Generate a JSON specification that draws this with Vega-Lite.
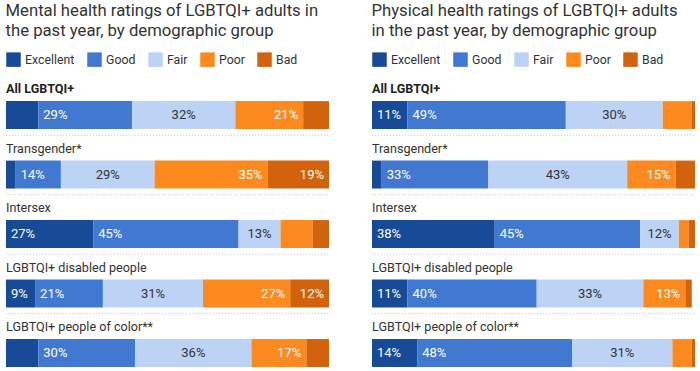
{
  "$schema": "https://vega.github.io/schema/vega-lite/v6.json",
  "padding": {"left": 5, "right": 5, "top": 3, "bottom": 0},
  "config": {
    "font": "Roboto",
    "view": {"stroke": null},
    "concat": {"spacing": 41},
    "title": {"anchor": "start", "fontSize": 16.7, "fontWeight": "normal", "lineHeight": 20, "color": "#333333", "offset": 12},
    "legend": {"orient": "top", "direction": "horizontal", "title": null, "symbolType": "square", "symbolSize": 210, "symbolStrokeWidth": 0, "symbolOpacity": 1, "labelFontSize": 12.3, "labelColor": "#333333", "columnPadding": 12, "labelOffset": 4, "offset": 2, "padding": 0}
  },
  "datasets": {
    "mental": [
      {"group": "All LGBTQI+", "cat": "Excellent", "pct": 10, "show": false},
      {"group": "All LGBTQI+", "cat": "Good", "pct": 29, "show": true},
      {"group": "All LGBTQI+", "cat": "Fair", "pct": 32, "show": true},
      {"group": "All LGBTQI+", "cat": "Poor", "pct": 21, "show": true},
      {"group": "All LGBTQI+", "cat": "Bad", "pct": 8, "show": false},
      {"group": "Transgender*", "cat": "Excellent", "pct": 3, "show": false},
      {"group": "Transgender*", "cat": "Good", "pct": 14, "show": true},
      {"group": "Transgender*", "cat": "Fair", "pct": 29, "show": true},
      {"group": "Transgender*", "cat": "Poor", "pct": 35, "show": true},
      {"group": "Transgender*", "cat": "Bad", "pct": 19, "show": true},
      {"group": "Intersex", "cat": "Excellent", "pct": 27, "show": true},
      {"group": "Intersex", "cat": "Good", "pct": 45, "show": true},
      {"group": "Intersex", "cat": "Fair", "pct": 13, "show": true},
      {"group": "Intersex", "cat": "Poor", "pct": 10, "show": false},
      {"group": "Intersex", "cat": "Bad", "pct": 5, "show": false},
      {"group": "LGBTQI+ disabled people", "cat": "Excellent", "pct": 9, "show": true},
      {"group": "LGBTQI+ disabled people", "cat": "Good", "pct": 21, "show": true},
      {"group": "LGBTQI+ disabled people", "cat": "Fair", "pct": 31, "show": true},
      {"group": "LGBTQI+ disabled people", "cat": "Poor", "pct": 27, "show": true},
      {"group": "LGBTQI+ disabled people", "cat": "Bad", "pct": 12, "show": true},
      {"group": "LGBTQI+ people of color**", "cat": "Excellent", "pct": 10, "show": false},
      {"group": "LGBTQI+ people of color**", "cat": "Good", "pct": 30, "show": true},
      {"group": "LGBTQI+ people of color**", "cat": "Fair", "pct": 36, "show": true},
      {"group": "LGBTQI+ people of color**", "cat": "Poor", "pct": 17, "show": true},
      {"group": "LGBTQI+ people of color**", "cat": "Bad", "pct": 7, "show": false}
    ],
    "physical": [
      {"group": "All LGBTQI+", "cat": "Excellent", "pct": 11, "show": true},
      {"group": "All LGBTQI+", "cat": "Good", "pct": 49, "show": true},
      {"group": "All LGBTQI+", "cat": "Fair", "pct": 30, "show": true},
      {"group": "All LGBTQI+", "cat": "Poor", "pct": 9, "show": false},
      {"group": "All LGBTQI+", "cat": "Bad", "pct": 1, "show": false},
      {"group": "Transgender*", "cat": "Excellent", "pct": 3, "show": false},
      {"group": "Transgender*", "cat": "Good", "pct": 33, "show": true},
      {"group": "Transgender*", "cat": "Fair", "pct": 43, "show": true},
      {"group": "Transgender*", "cat": "Poor", "pct": 15, "show": true},
      {"group": "Transgender*", "cat": "Bad", "pct": 6, "show": false},
      {"group": "Intersex", "cat": "Excellent", "pct": 38, "show": true},
      {"group": "Intersex", "cat": "Good", "pct": 45, "show": true},
      {"group": "Intersex", "cat": "Fair", "pct": 12, "show": true},
      {"group": "Intersex", "cat": "Poor", "pct": 3, "show": false},
      {"group": "Intersex", "cat": "Bad", "pct": 2, "show": false},
      {"group": "LGBTQI+ disabled people", "cat": "Excellent", "pct": 11, "show": true},
      {"group": "LGBTQI+ disabled people", "cat": "Good", "pct": 40, "show": true},
      {"group": "LGBTQI+ disabled people", "cat": "Fair", "pct": 33, "show": true},
      {"group": "LGBTQI+ disabled people", "cat": "Poor", "pct": 13, "show": true},
      {"group": "LGBTQI+ disabled people", "cat": "Bad", "pct": 2, "show": false},
      {"group": "LGBTQI+ people of color**", "cat": "Excellent", "pct": 14, "show": true},
      {"group": "LGBTQI+ people of color**", "cat": "Good", "pct": 48, "show": true},
      {"group": "LGBTQI+ people of color**", "cat": "Fair", "pct": 31, "show": true},
      {"group": "LGBTQI+ people of color**", "cat": "Poor", "pct": 6, "show": false},
      {"group": "LGBTQI+ people of color**", "cat": "Bad", "pct": 1, "show": false}
    ]
  },
  "hconcat": [
    {
      "title": {"text": ["Mental health ratings of LGBTQI+ adults in", "the past year, by demographic group"]},
      "width": 323,
      "height": 298,
      "data": {"name": "mental"},
      "transform": [
        {"calculate": "indexof(['Excellent','Good','Fair','Poor','Bad'], datum.cat)", "as": "ord"},
        {"stack": "pct", "groupby": ["group"], "sort": [{"field": "ord"}], "as": ["x0", "x1"]},
        {"calculate": "(datum.x0 + datum.x1) / 2", "as": "xm"},
        {"calculate": "datum.pct + '%'", "as": "lbl"}
      ],
      "layer": [
        {
          "transform": [{"filter": "datum.cat == 'Excellent' && datum.group != 'LGBTQI+ people of color**'"}],
          "mark": {"type": "rule", "strokeDash": [1, 2], "color": "#c8c8c8", "strokeWidth": 1},
          "encoding": {
            "y": {"field": "group", "type": "nominal", "sort": ["All LGBTQI+", "Transgender*", "Intersex", "LGBTQI+ disabled people", "LGBTQI+ people of color**"], "axis": null, "bandPosition": 1.22, "scale": {"paddingInner": 0.53, "paddingOuter": 0.27, "align": 1}},
            "x": {"datum": 0, "type": "quantitative", "scale": {"domain": [0, 100], "nice": false, "zero": false}, "axis": null},
            "x2": {"datum": 100}
          }
        },
        {
          "mark": {"type": "bar"},
          "encoding": {
            "y": {"field": "group", "type": "nominal", "sort": ["All LGBTQI+", "Transgender*", "Intersex", "LGBTQI+ disabled people", "LGBTQI+ people of color**"], "axis": null},
            "x": {"field": "x0", "type": "quantitative", "axis": null},
            "x2": {"field": "x1"},
            "color": {"field": "cat", "type": "nominal", "scale": {"domain": ["Excellent", "Good", "Fair", "Poor", "Bad"], "range": ["#174A97", "#4279D0", "#BDD3F6", "#FC8A1E", "#D2620B"]}}
          }
        },
        {
          "transform": [{"filter": "datum.show && (datum.cat == 'Excellent' || datum.cat == 'Good')"}],
          "mark": {"type": "text", "align": "left", "baseline": "middle", "dx": 5, "fontSize": 13, "color": "white"},
          "encoding": {
            "y": {"field": "group", "type": "nominal", "sort": ["All LGBTQI+", "Transgender*", "Intersex", "LGBTQI+ disabled people", "LGBTQI+ people of color**"], "axis": null, "bandPosition": 0.5},
            "x": {"field": "x0", "type": "quantitative", "axis": null},
            "text": {"field": "lbl"}
          }
        },
        {
          "transform": [{"filter": "datum.show && datum.cat == 'Fair'"}],
          "mark": {"type": "text", "align": "center", "baseline": "middle", "fontSize": 13, "color": "#333333"},
          "encoding": {
            "y": {"field": "group", "type": "nominal", "sort": ["All LGBTQI+", "Transgender*", "Intersex", "LGBTQI+ disabled people", "LGBTQI+ people of color**"], "axis": null, "bandPosition": 0.5},
            "x": {"field": "xm", "type": "quantitative", "axis": null},
            "text": {"field": "lbl"}
          }
        },
        {
          "transform": [{"filter": "datum.show && (datum.cat == 'Poor' || datum.cat == 'Bad')"}],
          "mark": {"type": "text", "align": "right", "baseline": "middle", "dx": -5, "fontSize": 13, "color": "white"},
          "encoding": {
            "y": {"field": "group", "type": "nominal", "sort": ["All LGBTQI+", "Transgender*", "Intersex", "LGBTQI+ disabled people", "LGBTQI+ people of color**"], "axis": null, "bandPosition": 0.5},
            "x": {"field": "x1", "type": "quantitative", "axis": null},
            "text": {"field": "lbl"}
          }
        },
        {
          "transform": [{"filter": "datum.cat == 'Excellent' && datum.group != 'All LGBTQI+'"}],
          "mark": {"type": "text", "align": "left", "baseline": "alphabetic", "dy": -8, "fontSize": 12.6, "fontWeight": "normal", "color": "#333333"},
          "encoding": {
            "y": {"field": "group", "type": "nominal", "sort": ["All LGBTQI+", "Transgender*", "Intersex", "LGBTQI+ disabled people", "LGBTQI+ people of color**"], "axis": null, "bandPosition": 0},
            "x": {"datum": 0, "type": "quantitative"},
            "text": {"field": "group"}
          }
        },
        {
          "transform": [{"filter": "datum.cat == 'Excellent' && datum.group == 'All LGBTQI+'"}],
          "mark": {"type": "text", "align": "left", "baseline": "alphabetic", "dy": -8, "fontSize": 12.6, "fontWeight": "bold", "color": "#222222"},
          "encoding": {
            "y": {"field": "group", "type": "nominal", "sort": ["All LGBTQI+", "Transgender*", "Intersex", "LGBTQI+ disabled people", "LGBTQI+ people of color**"], "axis": null, "bandPosition": 0},
            "x": {"datum": 0, "type": "quantitative"},
            "text": {"field": "group"}
          }
        }
      ]
    },
    {
      "title": {"text": ["Physical health ratings of LGBTQI+ adults", "in the past year, by demographic group"]},
      "width": 323,
      "height": 298,
      "data": {"name": "physical"},
      "transform": [
        {"calculate": "indexof(['Excellent','Good','Fair','Poor','Bad'], datum.cat)", "as": "ord"},
        {"stack": "pct", "groupby": ["group"], "sort": [{"field": "ord"}], "as": ["x0", "x1"]},
        {"calculate": "(datum.x0 + datum.x1) / 2", "as": "xm"},
        {"calculate": "datum.pct + '%'", "as": "lbl"}
      ],
      "layer": [
        {
          "transform": [{"filter": "datum.cat == 'Excellent' && datum.group != 'LGBTQI+ people of color**'"}],
          "mark": {"type": "rule", "strokeDash": [1, 2], "color": "#c8c8c8", "strokeWidth": 1},
          "encoding": {
            "y": {"field": "group", "type": "nominal", "sort": ["All LGBTQI+", "Transgender*", "Intersex", "LGBTQI+ disabled people", "LGBTQI+ people of color**"], "axis": null, "bandPosition": 1.22, "scale": {"paddingInner": 0.53, "paddingOuter": 0.27, "align": 1}},
            "x": {"datum": 0, "type": "quantitative", "scale": {"domain": [0, 100], "nice": false, "zero": false}, "axis": null},
            "x2": {"datum": 100}
          }
        },
        {
          "mark": {"type": "bar"},
          "encoding": {
            "y": {"field": "group", "type": "nominal", "sort": ["All LGBTQI+", "Transgender*", "Intersex", "LGBTQI+ disabled people", "LGBTQI+ people of color**"], "axis": null},
            "x": {"field": "x0", "type": "quantitative", "axis": null},
            "x2": {"field": "x1"},
            "color": {"field": "cat", "type": "nominal", "scale": {"domain": ["Excellent", "Good", "Fair", "Poor", "Bad"], "range": ["#174A97", "#4279D0", "#BDD3F6", "#FC8A1E", "#D2620B"]}}
          }
        },
        {
          "transform": [{"filter": "datum.show && (datum.cat == 'Excellent' || datum.cat == 'Good')"}],
          "mark": {"type": "text", "align": "left", "baseline": "middle", "dx": 5, "fontSize": 13, "color": "white"},
          "encoding": {
            "y": {"field": "group", "type": "nominal", "sort": ["All LGBTQI+", "Transgender*", "Intersex", "LGBTQI+ disabled people", "LGBTQI+ people of color**"], "axis": null, "bandPosition": 0.5},
            "x": {"field": "x0", "type": "quantitative", "axis": null},
            "text": {"field": "lbl"}
          }
        },
        {
          "transform": [{"filter": "datum.show && datum.cat == 'Fair'"}],
          "mark": {"type": "text", "align": "center", "baseline": "middle", "fontSize": 13, "color": "#333333"},
          "encoding": {
            "y": {"field": "group", "type": "nominal", "sort": ["All LGBTQI+", "Transgender*", "Intersex", "LGBTQI+ disabled people", "LGBTQI+ people of color**"], "axis": null, "bandPosition": 0.5},
            "x": {"field": "xm", "type": "quantitative", "axis": null},
            "text": {"field": "lbl"}
          }
        },
        {
          "transform": [{"filter": "datum.show && (datum.cat == 'Poor' || datum.cat == 'Bad')"}],
          "mark": {"type": "text", "align": "right", "baseline": "middle", "dx": -5, "fontSize": 13, "color": "white"},
          "encoding": {
            "y": {"field": "group", "type": "nominal", "sort": ["All LGBTQI+", "Transgender*", "Intersex", "LGBTQI+ disabled people", "LGBTQI+ people of color**"], "axis": null, "bandPosition": 0.5},
            "x": {"field": "x1", "type": "quantitative", "axis": null},
            "text": {"field": "lbl"}
          }
        },
        {
          "transform": [{"filter": "datum.cat == 'Excellent' && datum.group != 'All LGBTQI+'"}],
          "mark": {"type": "text", "align": "left", "baseline": "alphabetic", "dy": -8, "fontSize": 12.6, "fontWeight": "normal", "color": "#333333"},
          "encoding": {
            "y": {"field": "group", "type": "nominal", "sort": ["All LGBTQI+", "Transgender*", "Intersex", "LGBTQI+ disabled people", "LGBTQI+ people of color**"], "axis": null, "bandPosition": 0},
            "x": {"datum": 0, "type": "quantitative"},
            "text": {"field": "group"}
          }
        },
        {
          "transform": [{"filter": "datum.cat == 'Excellent' && datum.group == 'All LGBTQI+'"}],
          "mark": {"type": "text", "align": "left", "baseline": "alphabetic", "dy": -8, "fontSize": 12.6, "fontWeight": "bold", "color": "#222222"},
          "encoding": {
            "y": {"field": "group", "type": "nominal", "sort": ["All LGBTQI+", "Transgender*", "Intersex", "LGBTQI+ disabled people", "LGBTQI+ people of color**"], "axis": null, "bandPosition": 0},
            "x": {"datum": 0, "type": "quantitative"},
            "text": {"field": "group"}
          }
        }
      ]
    }
  ],
  "resolve": {"scale": {"color": "independent"}, "legend": {"color": "independent"}}
}
